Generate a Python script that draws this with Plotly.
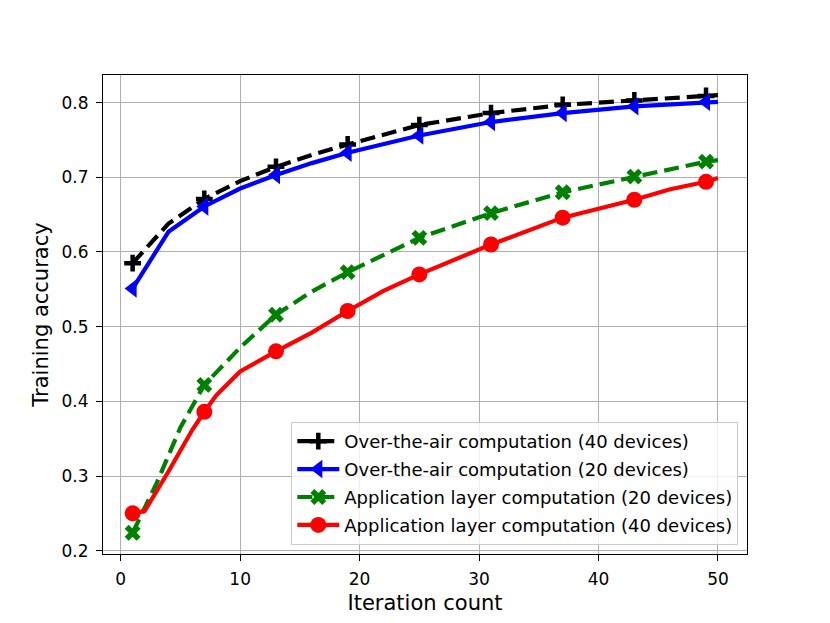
import plotly.graph_objects as go

# ---- data ----
marker_iters = [1, 7, 13, 19, 25, 31, 37, 43, 49]

ota40_x = [1, 4, 7, 10, 13, 16, 19, 22, 25, 31, 37, 43, 49, 50]
ota40_y = [0.585, 0.638, 0.671, 0.695, 0.714, 0.730, 0.744, 0.757, 0.770, 0.786, 0.797, 0.803, 0.809, 0.810]

ota20_x = [1, 4, 7, 10, 13, 16, 19, 25, 31, 37, 43, 49, 50]
ota20_y = [0.551, 0.627, 0.661, 0.685, 0.703, 0.719, 0.733, 0.756, 0.774, 0.786, 0.795, 0.801, 0.801]

app20_x = [1, 3, 5, 7, 10, 13, 16, 19, 25, 31, 37, 43, 49, 50]
app20_y = [0.224, 0.290, 0.365, 0.422, 0.472, 0.516, 0.547, 0.573, 0.619, 0.652, 0.680, 0.701, 0.721, 0.723]

app40_x = [1, 2, 4, 5, 6, 7, 8, 10, 13, 16, 19, 22, 25, 31, 37, 43, 46, 49, 50]
app40_y = [0.250, 0.253, 0.306, 0.335, 0.362, 0.386, 0.408, 0.440, 0.467, 0.492, 0.521, 0.548, 0.570, 0.610, 0.646, 0.670, 0.684, 0.694, 0.699]

names = [
    "Over-the-air computation (40 devices)",
    "Over-the-air computation (20 devices)",
    "Application layer computation (20 devices)",
    "Application layer computation (40 devices)",
]
colors = ["black", "blue", "green", "red"]

series = [
    (ota40_x, ota40_y, names[0], colors[0], "15px,7px",
     dict(symbol="cross-thin-open", size=12, color=colors[0], line=dict(width=4.5, color=colors[0]))),
    (ota20_x, ota20_y, names[1], colors[1], "solid",
     dict(symbol="triangle-left", size=16, color=colors[1], line=dict(width=0))),
    (app20_x, app20_y, names[2], colors[2], "15px,7px",
     dict(symbol="x", size=14, color=colors[2], line=dict(width=0))),
    (app40_x, app40_y, names[3], colors[3], "solid",
     dict(symbol="circle", size=16, color=colors[3], line=dict(width=0))),
]

fig = go.Figure()
for i, (xs, ys, name, col, dash, mk) in enumerate(series):
    fig.add_trace(go.Scatter(x=xs, y=ys, mode="lines", line=dict(color=col, width=4.2, dash=dash),
                             showlegend=False, hoverinfo="skip"))
    mx = [x for x in xs if x in marker_iters]
    my = [y for x, y in zip(xs, ys) if x in marker_iters]
    fig.add_trace(go.Scatter(x=mx, y=my, mode="markers", marker=mk, showlegend=False))
    fig.add_trace(go.Scatter(x=[None], y=[None], mode="lines+markers", name=name,
                             line=dict(color=col, width=4.2, dash=dash), marker=mk,
                             legendgroup="g%d" % i))

axis_common = dict(
    showline=True, linecolor="black", linewidth=1.1, mirror=True,
    ticks="outside", ticklen=6, tickwidth=1.1, tickcolor="black",
    showgrid=True, gridcolor="#b0b0b0", gridwidth=1.1, zeroline=False,
    tickfont=dict(family="DejaVu Sans", size=17, color="black"),
)

fig.update_layout(
    width=830, height=623,
    margin=dict(l=103, r=83, t=75, b=69),
    paper_bgcolor="white", plot_bgcolor="white",
    font=dict(family="DejaVu Sans", color="black"),
    xaxis=dict(range=[-1.48, 52.43], tick0=0, dtick=10, ticklabelstandoff=4,
               title=dict(text="Iteration count", font=dict(family="DejaVu Sans", size=21), standoff=6),
               **axis_common),
    yaxis=dict(range=[0.1956, 0.837], tick0=0.2, dtick=0.1, tickformat=".1f", ticklabelstandoff=4,
               title=dict(text="Training accuracy", font=dict(family="DejaVu Sans", size=21), standoff=7),
               **axis_common),
    legend=dict(x=0.9865, y=0.0188, xanchor="right", yanchor="bottom",
                bgcolor="rgba(255,255,255,0.8)", bordercolor="#cccccc", borderwidth=1,
                font=dict(family="DejaVu Sans", size=18, color="black"),
                itemwidth=42, tracegroupgap=1.5, traceorder="grouped"),
    showlegend=True,
)

fig.write_html("out.html", config={"displayModeBar": False},
               post_script="document.body.style.margin='0px';")
